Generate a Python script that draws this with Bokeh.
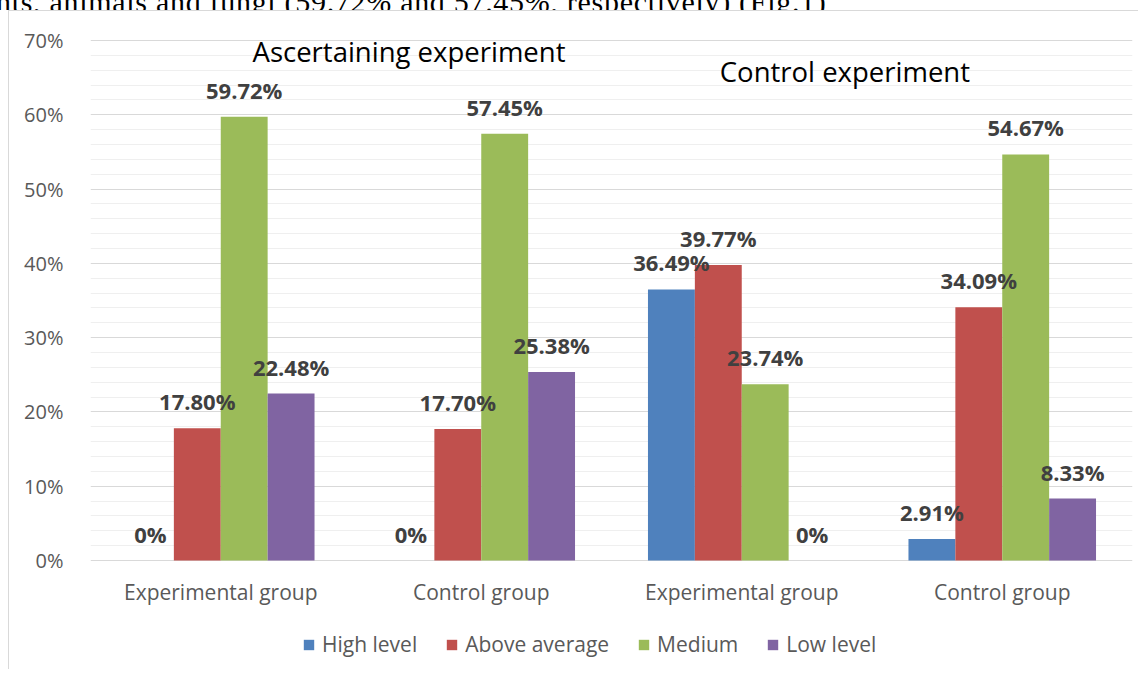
from bokeh.plotting import figure
from bokeh.layouts import column
from bokeh.models import (ColumnDataSource, Legend, LegendItem, FixedTicker,
                          PrintfTickFormatter, Range1d, Label, Div)
from bokeh.core.properties import value
from bokeh.embed import file_html
from bokeh.resources import INLINE

groups = ["Experimental group", "Control group", "Experimental group", "Control group"]
series = ["High level", "Above average", "Medium", "Low level"]
colors = ["#4F81BD", "#C0504D", "#9BBB59", "#8064A2"]
high_level = [0.0, 0.0, 36.49, 2.91]
above_average = [17.80, 17.70, 39.77, 34.09]
medium = [59.72, 57.45, 23.74, 54.67]
low_level = [22.48, 25.38, 0.0, 8.33]
experiments = ["Ascertaining experiment", "Control experiment"]
experiment_x = [1.2226, 2.896]
experiment_y = [68.5, 65.8]
y_major_ticks = [0, 10, 20, 30, 40, 50, 60, 70]
y_minor_ticks = [v for v in range(2, 70, 2) if v % 10]
page_text = "nts, animals and fungi (59.72% and 57.45%, respectively) (Fig.1)"

values = [high_level, above_average, medium, low_level]
offsets = [-0.27, -0.09, 0.09, 0.27]
bar_w = 0.18
FONT = "Open Sans"

PX_PER_PCT = 520 / 70
y_lo = -110 / PX_PER_PCT
y_hi = 70 + 29 / PX_PER_PCT

# the cut-off line of body text above the chart
top_div = Div(text=('<div style="margin-top:-19px;margin-left:-4px;font-family:\'Liberation Serif\';'
                    'font-size:30px;line-height:30px;letter-spacing:0.7px;white-space:nowrap;color:#000">'
                    + page_text + '</div>'),
              width=1140, height=10, margin=0, styles={"overflow": "hidden"})

p = figure(width=1130, height=659, output_backend="svg", toolbar_location=None,
           x_range=Range1d(0, 4), y_range=Range1d(y_lo, y_hi),
           x_axis_location=None,
           min_border=0, min_border_left=81, min_border_top=0,
           min_border_bottom=0, min_border_right=7,
           outline_line_color=None,
           styles={"border-left": "1px solid #d9d9d9", "border-top": "1px solid #d9d9d9",
                   "margin-left": "8px"})

renderers = []
sources = []
for s, c, vals, off in zip(series, colors, values, offsets):
    xs = [i + 0.5 + off for i in range(len(groups))]
    src = ColumnDataSource(dict(x=xs, top=vals,
                                lab=[("%.2f%%" % v) if v else "0%" for v in vals]))
    r = p.vbar(x="x", top="top", width=bar_w, bottom=0, source=src,
               fill_color=c, line_color=None)
    renderers.append((s, r))
    sources.append(src)

for src in sources:
    p.text(x="x", y="top", text="lab", source=src, text_align="center",
           text_baseline="alphabetic", y_offset=-27, text_font=value(FONT),
           text_font_size="22px", text_font_style="bold", text_color="#404040")

# category labels under the 0 % line
p.text(x=[i + 0.5 for i in range(len(groups))], y=[0] * len(groups), text=groups,
       text_align="center", text_baseline="middle", y_offset=31,
       text_font=value(FONT), text_font_size="21px", text_color="#595959")

for t, tx, ty in zip(experiments, experiment_x, experiment_y):
    p.add_layout(Label(x=tx, y=ty, text=t, text_align="center",
                       text_baseline="alphabetic", text_font=FONT,
                       text_font_size="27.5px", text_color="#000000"))

# y axis
yt = FixedTicker(ticks=y_major_ticks, minor_ticks=y_minor_ticks)
p.yaxis.ticker = yt
p.yaxis.formatter = PrintfTickFormatter(format="%d%%")
p.yaxis.axis_line_color = None
p.yaxis.major_tick_line_color = None
p.yaxis.minor_tick_line_color = None
p.yaxis.major_tick_out = 0
p.yaxis.major_label_standoff = 23
p.yaxis.major_label_text_font = FONT
p.yaxis.major_label_text_font_size = "20px"
p.yaxis.major_label_text_color = "#595959"

p.xgrid.grid_line_color = None
p.ygrid.ticker = yt
p.ygrid.grid_line_color = "#d9d9d9"
p.ygrid.minor_grid_line_color = "#efefef"

legend = Legend(items=[LegendItem(label=s, renderers=[r]) for s, r in renderers],
                orientation="horizontal", location=(212, 12),
                glyph_width=13, glyph_height=13, label_standoff=7, spacing=28,
                padding=0, margin=0, border_line_color=None,
                background_fill_alpha=0,
                label_text_font=FONT, label_text_font_size="21px",
                label_text_color="#595959")
p.add_layout(legend, "center")

layout = column(top_div, p, spacing=0)
open("out.html", "w").write(file_html(layout, INLINE))
